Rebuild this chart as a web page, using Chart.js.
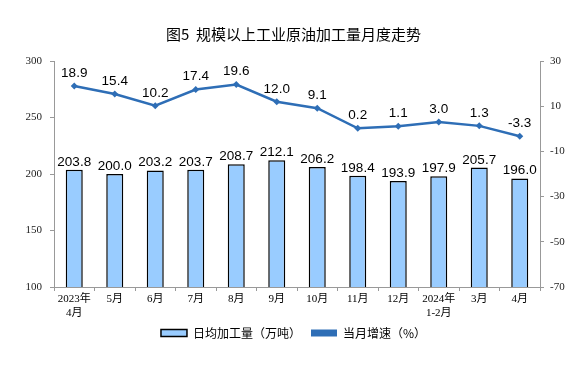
<!DOCTYPE html>
<html><head><meta charset="utf-8">
<script src="https://cdn.jsdelivr.net/npm/chart.js@4.4.1/dist/chart.umd.min.js"></script>
<style>html,body{margin:0;padding:0;background:#fff}canvas{display:block}</style>
</head><body>
<canvas id="c" width="587" height="380"></canvas>
<script>
const categories = [["2023年","4月"],"5月","6月","7月","8月","9月","10月","11月","12月",["2024年","1-2月"],"3月","4月"];
const dailyOutput = [203.8,200.0,203.2,203.7,208.7,212.1,206.2,198.4,193.9,197.9,205.7,196.0];
const growthRate = [18.9,15.4,10.2,17.4,19.6,12.0,9.1,0.2,1.1,3.0,1.3,-3.3];
const leftTicks = [100,150,200,250,300];
const rightTicks = [-70,-50,-30,-10,10,30];

const labelPlugin = {
  id:'valueLabels',
  afterDatasetsDraw(chart){
    const ctx = chart.ctx;
    ctx.save();
    ctx.font = '13.5px "Liberation Sans", Arial, sans-serif';
    ctx.fillStyle = '#000';
    ctx.textAlign = 'center';
    ctx.textBaseline = 'bottom';
    chart.data.datasets.forEach((ds,i)=>{
      const meta = chart.getDatasetMeta(i);
      meta.data.forEach((el,j)=>{
        const off = ds.type==='line' ? 6 : 1;
        ctx.fillText(ds.data[j].toFixed(1), el.x, el.y - off);
      });
    });
    ctx.restore();
  }
};

new Chart(document.getElementById('c'),{
  data:{
    labels:categories,
    datasets:[
      {type:'line',label:'当月增速（%）',data:growthRate,yAxisID:'y1',
       borderColor:'#2E6EB6',backgroundColor:'#2E6EB6',borderWidth:2.5,
       pointStyle:'rectRot',pointRadius:3.5,pointBackgroundColor:'#2E6EB6',pointBorderWidth:0,tension:0,order:0},
      {type:'bar',label:'日均加工量（万吨）',data:dailyOutput,yAxisID:'y',
       backgroundColor:'#99CCFF',borderColor:'#000',borderWidth:1.5,
       categoryPercentage:1,barPercentage:0.42,order:1}
    ]
  },
  options:{
    responsive:false,animation:false,
    layout:{padding:{top:0,left:0,right:0,bottom:31}},
    plugins:{
      title:{display:true,text:'图5  规模以上工业原油加工量月度走势',color:'#000',
        font:{size:15,weight:'normal',family:'"Noto Sans CJK SC", sans-serif'},padding:{top:25,bottom:18}},
      legend:{position:'bottom',
        labels:{color:'#000',font:{size:12,family:'"Noto Sans CJK SC", sans-serif'},boxWidth:26,boxHeight:7,padding:10,
          generateLabels(chart){
            const ds=chart.data.datasets;
            return [
              {text:ds[1].label,fillStyle:'#99CCFF',strokeStyle:'#000',lineWidth:1.5,datasetIndex:1},
              {text:ds[0].label,fillStyle:'#2E6EB6',strokeStyle:'#2E6EB6',lineWidth:0,datasetIndex:0}
            ];
          }}},
      tooltip:{enabled:false}
    },
    scales:{
      x:{offset:true,grid:{display:true,drawOnChartArea:false,offset:true,tickLength:4,color:'#999'},
        border:{color:'#999'},
        afterFit(s){s.height=30;},
        ticks:{color:'#000',maxRotation:0,autoSkip:false,font:{size:11,family:'"Liberation Serif", "Noto Sans CJK SC", serif'},padding:2}},
      y:{position:'left',min:100,max:300,
        afterBuildTicks(s){s.ticks=leftTicks.map(v=>({value:v}));},
        afterFit(s){s.width=54;},
        grid:{drawOnChartArea:false,tickLength:4,color:'#999'},border:{color:'#999'},
        ticks:{color:'#222',font:{size:11,family:'"Liberation Serif", serif'},padding:8}},
      y1:{position:'right',min:-70,max:30,
        afterBuildTicks(s){s.ticks=rightTicks.map(v=>({value:v}));},
        afterFit(s){s.width=47;},
        grid:{drawOnChartArea:false,tickLength:4,color:'#999'},border:{color:'#999'},
        ticks:{color:'#222',font:{size:11,family:'"Liberation Serif", serif'},padding:6}}
    }
  },
  plugins:[labelPlugin]
});
</script>
</body></html>
